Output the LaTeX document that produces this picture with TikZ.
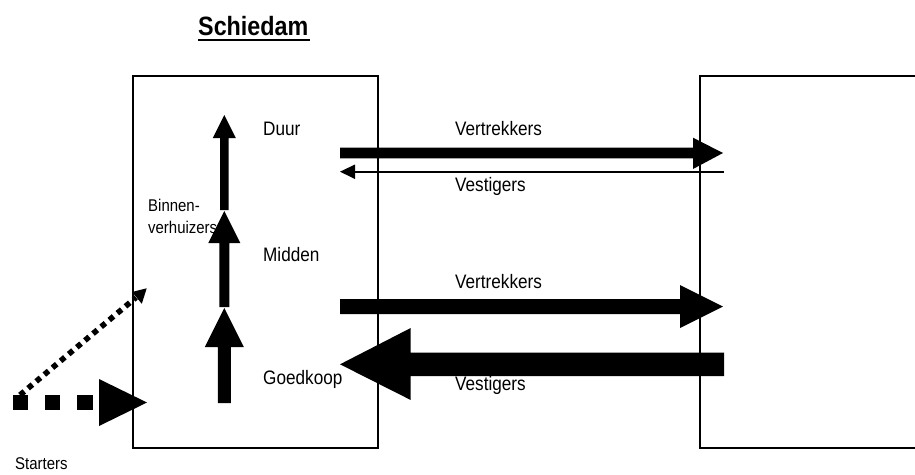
\documentclass[tikz,border=0pt]{standalone}
\usepackage{fontspec}
\setmainfont{Liberation Sans}[FakeStretch=0.88]
\begin{document}
\begin{tikzpicture}[x=1pt,y=-1pt,
  lbl/.style={inner sep=0pt,anchor=base west,font=\fontsize{19.5}{22}\selectfont},
  small/.style={inner sep=0pt,anchor=base west,font=\fontsize{17}{19}\selectfont},
  boxline/.style={line width=2pt,line join=miter},
  blk/.style={fill=black}]
\useasboundingbox (0,0) rectangle (915,474);
% title
\node[inner sep=0pt,anchor=base west,font=\fontsize{26.5}{30}\selectfont\bfseries] (title) at (198,35.5) {Schiedam};
\draw[line width=2.3pt] ([yshift=-4.6pt]title.base west) -- ([yshift=-4.6pt,xshift=1pt]title.base east);
% boxes
\draw[boxline] (132.7,75.7) rectangle (377.7,447.7);
\draw[boxline] (918,75.7) -- (700,75.7) -- (700,447.7) -- (918,447.7);
% vertical arrows (Binnenverhuizers)
\fill[blk] (220.1,210) -- (220.1,138) -- (212.8,138) -- (224.3,115) -- (235.8,138) -- (228.5,138) -- (228.5,210) -- cycle;
\fill[blk] (219.3,307) -- (219.3,243) -- (208.3,243) -- (224.3,211) -- (240.3,243) -- (229.3,243) -- (229.3,307) -- cycle;
\fill[blk] (217.8,403) -- (217.8,347) -- (204.8,347) -- (224.3,308) -- (243.8,347) -- (230.8,347) -- (230.8,403) -- cycle;
% horizontal arrows
\fill[blk] (340,147.7) -- (693,147.7) -- (693,137.7) -- (723,153) -- (693,169) -- (693,158.3) -- (340,158.3) -- cycle;
\draw[line width=2pt] (724,171.7) -- (354,171.7);
\fill[blk] (355,164.5) -- (340,171.7) -- (355,179) -- cycle;
\fill[blk] (340,299) -- (680,299) -- (680,285) -- (723,306.5) -- (680,328) -- (680,314) -- (340,314) -- cycle;
\fill[blk] (724,352.7) -- (410.7,352.7) -- (410.7,328) -- (340,364.3) -- (410.7,400) -- (410.7,376) -- (724,376) -- cycle;
% starters dashed arrow
\fill[blk] (13,395) rectangle (28,410);
\fill[blk] (45,395) rectangle (60,410);
\fill[blk] (77,395) rectangle (93,410);
\fill[blk] (99,379) -- (147,402.5) -- (99,426) -- cycle;
% starters dotted arrow
\draw[line width=5.6pt,dash pattern=on 5.6pt off 5pt] (20,395) -- (136,297.5);
\fill[blk] (146.7,288.3) -- (132,292) -- (141.8,303.8) -- cycle;
% labels
\node[lbl] (duur) at (263,135) {Duur};
\node[lbl] (midden) at (263,261.7) {Midden};
\node[lbl] (goedkoop) at (263,384) {Goedkoop};
\node[small] (binnen1) at (148,211.7) {Binnen-};
\node[small] (binnen2) at (148,233.3) {verhuizers};
\node[lbl] (vert1) at (455,135) {Vertrekkers};
\node[lbl] (vest1) at (455,191.7) {Vestigers};
\node[lbl] (vert2) at (455,288.3) {Vertrekkers};
\node[lbl] (vest2) at (455,390) {Vestigers};
\node[small] (starters) at (15,469.5) {Starters};
\end{tikzpicture}
\end{document}
